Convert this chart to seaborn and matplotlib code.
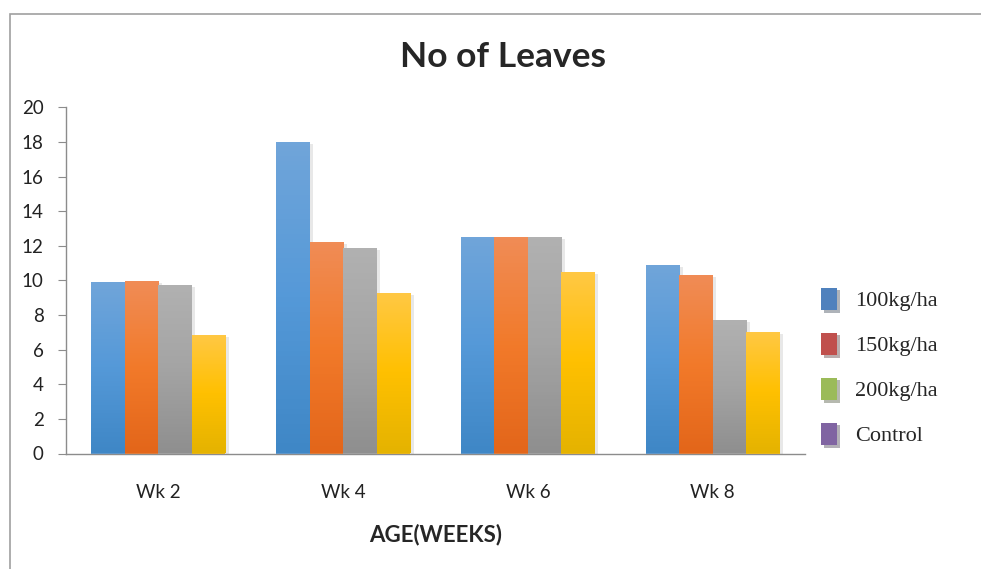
import numpy as np
import pandas as pd
import matplotlib
matplotlib.use("Agg")
import matplotlib.pyplot as plt
import matplotlib.patheffects as pe
from matplotlib.patches import Rectangle, Patch
from matplotlib.colors import LinearSegmentedColormap
import seaborn as sns

# data
weeks = ["Wk 2", "Wk 4", "Wk 6", "Wk 8"]
series = ["100kg/ha", "150kg/ha", "200kg/ha", "Control"]
rate_100 = [9.9, 18.0, 12.5, 10.9]
rate_150 = [9.95, 12.2, 12.5, 10.3]
rate_200 = [9.75, 11.85, 12.5, 7.7]
control = [6.85, 9.3, 10.5, 7.0]

# bar gradients (top, middle, bottom) and the legend colours as shown in the figure
bar_grad = [("#70a5da", "#5599d8", "#3f87c6"),
            ("#f08c56", "#f27a2a", "#e3661a"),
            ("#b1b1b1", "#a4a4a4", "#8f8f8f"),
            ("#ffc844", "#ffc000", "#e5b300")]
legend_colors = ["#4f81bd", "#c0504d", "#9bbb59", "#8064a2"]

df = pd.DataFrame({
    "week": weeks * 4,
    "series": sum([[s] * 4 for s in series], []),
    "value": rate_100 + rate_150 + rate_200 + control,
})

sns.set_style("white")
plt.rcParams["font.family"] = ["Lato", "DejaVu Sans"]

fig = plt.figure(figsize=(9.81, 5.69), dpi=100)
ax = fig.add_axes([66 / 981, 1 - 453.5 / 569, (805 - 66) / 981, (453.5 - 107.3) / 569])

sns.barplot(data=df, x="week", y="value", hue="series", order=weeks, hue_order=series,
            palette=[g[1] for g in bar_grad], width=0.725, ax=ax, legend=False,
            linewidth=0, saturation=1)

# gradient fill + soft shadow on every bar
for cont, grad in zip(ax.containers, bar_grad):
    cmap = LinearSegmentedColormap.from_list("g", list(grad)[::-1])
    for bar in cont:
        x0, w, h = bar.get_x(), bar.get_width(), bar.get_height()
        bar.set_path_effects([pe.SimplePatchShadow(offset=(2.5, -1.5), alpha=0.18, shadow_rgbFace="#808080"),
                              pe.Normal()])
        img = ax.imshow(np.linspace(0, 1, 64).reshape(-1, 1), cmap=cmap, origin="lower",
                        extent=[x0, x0 + w, 0, h], aspect="auto", zorder=bar.get_zorder() + 0.1)
        img.set_clip_path(bar)

ax.set_xlim(-0.5, 3.5)
ax.set_ylim(0, 20)
ax.set_yticks(range(0, 21, 2))

axis_grey = "#8c8c8c"
for s in ["top", "right"]:
    ax.spines[s].set_visible(False)
for s in ["left", "bottom"]:
    ax.spines[s].set_color(axis_grey)
    ax.spines[s].set_linewidth(1)

ax.set_xticks(np.arange(-0.5, 4, 1), minor=True)
ax.tick_params(axis="x", which="major", length=0, pad=22, labelsize=13.5, colors="#222222")
ax.tick_params(axis="x", which="minor", length=8, color=axis_grey, direction="out")
ax.tick_params(axis="y", length=6, color=axis_grey, direction="out", left=True,
               labelsize=13.5, pad=10, colors="#222222")

ax.set_ylabel("")
ax.set_xlabel("AGE(WEEKS)", fontsize=16, fontweight="bold", labelpad=16)

fig.text(503 / 981, 1 - 57 / 569, "No of Leaves", ha="center", va="center",
         fontsize=25.5, fontweight="bold")

handles = [Patch(facecolor=c, edgecolor="none",
                 path_effects=[pe.SimplePatchShadow(offset=(2, -2), alpha=0.35), pe.Normal()])
           for c in legend_colors]
ax.legend(handles, series, loc="center left", bbox_to_anchor=(0.995, 0.25), frameon=False,
          prop={"family": "Liberation Serif", "size": 16}, labelspacing=0.95,
          handlelength=0.7, handleheight=1.2, handletextpad=0.8)

# outer chart frame
fig.patches.append(Rectangle((10 / 981, -0.1), 1.1, 1 - 14 / 569 + 0.1, transform=fig.transFigure,
                             fill=False, edgecolor="#a0a0a0", linewidth=1.2))

fig.savefig("out.png", dpi=100)
